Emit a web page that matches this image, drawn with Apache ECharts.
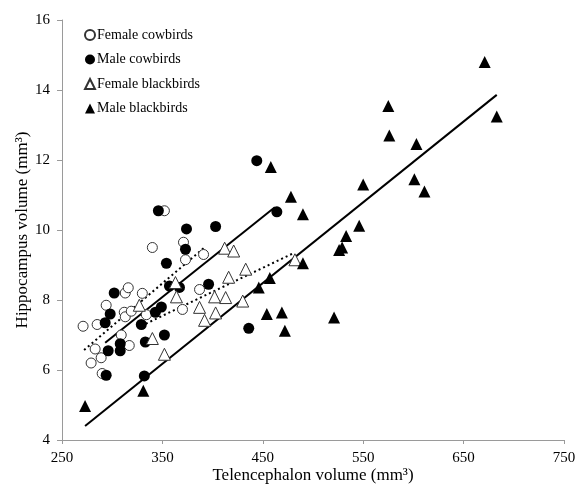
<!DOCTYPE html>
<html>
<head>
<meta charset="utf-8">
<script src="https://cdn.jsdelivr.net/npm/echarts@6/dist/echarts.min.js"></script>
<style>
  html, body { margin: 0; padding: 0; background: #fff; }
  #chart { width: 581px; height: 487px; }
</style>
</head>
<body>
<div id="chart"></div>
<script>
// telencephalon (x) vs hippocampus (y), mm3
const femaleCowbirds = [
    [271, 7.25], [279, 6.2], [283, 6.6], [285, 7.3], [289, 6.35], [290, 5.9],
    [294, 7.85], [309, 7.0], [312, 7.65], [313, 7.52], [313, 8.2], [316, 8.35],
    [317, 6.7], [319, 7.68], [330, 8.19], [334, 7.58], [340, 9.5], [352, 10.55],
    [370, 7.73], [371, 9.65], [373, 9.15], [387, 8.3], [391, 9.3],
];
const maleCowbirds = [
    [293, 7.35], [294, 5.85], [296, 6.55], [298, 7.6], [302, 8.2], [308, 6.75],
    [308, 6.55], [329, 7.3], [332, 5.83], [333, 6.8], [343, 7.65], [346, 10.55],
    [349, 7.8], [352, 7.0], [354, 9.05], [357, 8.4], [367, 8.36], [373, 9.45],
    [374, 10.03], [396, 8.45], [403, 10.1], [436, 7.19], [444, 11.98], [464, 10.52],
];
const femaleBlackbirds = [
    [327, 7.85], [340, 6.9], [352, 6.45], [363, 8.5], [364, 8.09], [387, 7.79],
    [392, 7.42], [403, 7.63], [402, 8.09], [413, 8.07], [412, 9.48], [416, 8.65],
    [421, 9.4], [430, 7.97], [433, 8.88], [482, 9.15],
];
const maleBlackbirds = [
    [273, 4.97], [331, 5.41], [446, 8.36], [454, 7.6], [457, 8.63], [458, 11.8],
    [469, 7.64], [472, 7.12], [478, 10.95], [490, 10.45], [490, 9.05], [521, 7.5],
    [526, 9.43], [529, 9.5], [533, 9.83], [546, 10.12], [550, 11.3], [575, 13.54],
    [576, 12.7], [601, 11.45], [603, 12.46], [611, 11.1], [671, 14.8], [683, 13.24],
];

// fitted lines, start and end points
const femaleCowbirdFit = [[272, 6.57], [391, 9.48]];
const maleCowbirdFit = [[293, 6.78], [462, 10.65]];
const femaleBlackbirdFit = [[329, 7.26], [480, 9.33]];
const maleBlackbirdFit = [[273, 4.4], [683, 13.86]];

const xTicks = { min: 250, max: 750, interval: 100 };
const yTicks = { min: 4, max: 16, interval: 2 };

const serif = "'Liberation Serif', 'Times New Roman', serif";

const openStyle = { color: "#fff", borderColor: "#333", borderWidth: 1, opacity: 1 };
const filledStyle = { color: "#000", borderColor: "#000", borderWidth: 0, opacity: 1 };

function scatter(name, data, symbol, size, style) {
    return {
        name: name,
        type: "scatter",
        data: data,
        symbol: symbol,
        symbolSize: size,
        itemStyle: style,
        z: 3,
    };
}

function fit(data, dotted) {
    return {
        type: "line",
        data: data,
        showSymbol: false,
        silent: true,
        lineStyle: { color: "#000", width: 2, type: dotted ? [2, 3] : "solid" },
        z: 2,
    };
}

const chart = echarts.init(document.getElementById("chart"), null, { renderer: "canvas" });

chart.setOption({
    animation: false,
    textStyle: { fontFamily: serif },
    grid: { left: 62, right: 17, top: 20, bottom: 47, containLabel: false, outerBoundsMode: "none" },
    legend: {
        data: ["Female cowbirds", "Male cowbirds", "Female blackbirds", "Male blackbirds"],
        orient: "vertical",
        left: 79,
        top: 23,
        itemWidth: 10,
        itemHeight: 10,
        itemGap: 10.5,
        selectedMode: false,
        textStyle: { fontFamily: serif, fontSize: 14, color: "#000", padding: [0, 0, 0, -3] },
    },
    xAxis: {
        type: "value",
        min: xTicks.min,
        max: xTicks.max,
        interval: xTicks.interval,
        name: "Telencephalon volume (mm³)",
        nameLocation: "middle",
        nameGap: 27,
        nameMoveOverlap: false,
        nameTextStyle: { fontFamily: serif, fontSize: 17, color: "#000" },
        axisLine: { lineStyle: { color: "#9a9a9a" } },
        axisTick: { length: 4, lineStyle: { color: "#9a9a9a" } },
        axisLabel: { fontFamily: serif, fontSize: 15, color: "#000", margin: 11 },
        splitLine: { show: false },
    },
    yAxis: {
        type: "value",
        min: yTicks.min,
        max: yTicks.max,
        interval: yTicks.interval,
        name: "Hippocampus volume (mm³)",
        nameLocation: "middle",
        nameGap: 31,
        nameMoveOverlap: false,
        nameTextStyle: { fontFamily: serif, fontSize: 17, color: "#000" },
        axisLine: { show: true, lineStyle: { color: "#9a9a9a" } },
        axisTick: { show: true, length: 5, lineStyle: { color: "#9a9a9a" } },
        axisLabel: { fontFamily: serif, fontSize: 15, color: "#000", margin: 12 },
        splitLine: { show: false },
    },
    series: [
        scatter("Female cowbirds", femaleCowbirds, "circle", 10, openStyle),
        scatter("Male cowbirds", maleCowbirds, "circle", 11, filledStyle),
        scatter("Female blackbirds", femaleBlackbirds, "triangle", 12, openStyle),
        scatter("Male blackbirds", maleBlackbirds, "triangle", 12, filledStyle),
        fit(femaleCowbirdFit, true),
        fit(maleCowbirdFit, false),
        fit(femaleBlackbirdFit, true),
        fit(maleBlackbirdFit, false),
    ],
});

window.onresize = () => {
    chart.resize();
};
</script>
</body>
</html>
